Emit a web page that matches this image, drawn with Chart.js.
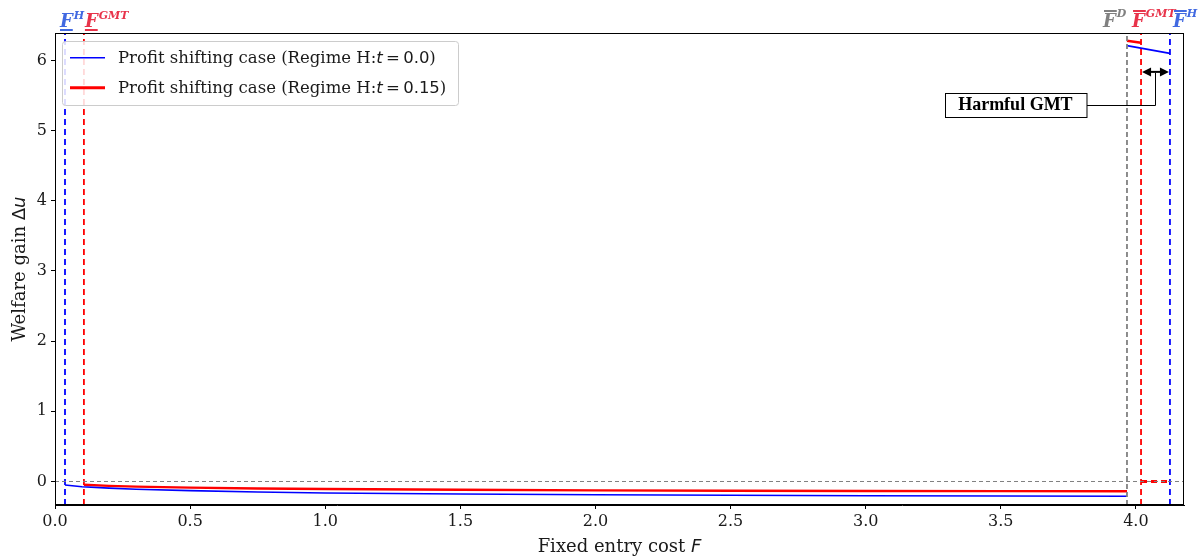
<!DOCTYPE html>
<html>
<head>
<meta charset="utf-8">
<script src="https://cdn.jsdelivr.net/npm/chart.js@4.4.1/dist/chart.umd.min.js"></script>
<style>
  html, body { margin: 0; padding: 0; background: #ffffff; }
  #wrap { width: 1203px; height: 560px; position: relative; }
</style>
</head>
<body>
<div id="wrap"><canvas id="c" width="1203" height="560"></canvas></div>
<script>
// ---------- data ----------
const xRange = [0, 4.178];
const yRange = [-0.335, 6.39];
const xTicks = [0.0, 0.5, 1.0, 1.5, 2.0, 2.5, 3.0, 3.5, 4.0];
const yTicks = [0, 1, 2, 3, 4, 5, 6];

// Regime H: t = 0.0 (blue)
const blueX = [0.037, 0.1, 0.2, 0.3, 0.5, 0.75, 1.0, 1.5, 2.0, 2.5, 3.0, 3.5, 3.967];
const blueY = [-0.05, -0.075, -0.095, -0.11, -0.13, -0.15, -0.163, -0.178, -0.19, -0.197, -0.203, -0.207, -0.21];
// Regime H: t = 0.15 (red)
const redX = [0.107, 0.2, 0.3, 0.5, 0.75, 1.0, 1.5, 2.0, 2.5, 3.0, 3.5, 3.967];
const redY = [-0.047, -0.062, -0.073, -0.088, -0.1, -0.108, -0.118, -0.126, -0.131, -0.135, -0.138, -0.14];

// upper branch (right of F-bar-D)
const blueTopX = [3.967, 4.126];
const blueTopY = [6.21, 6.10];
const redTopX = [3.967, 4.019];
const redTopY = [6.28, 6.25];

// red dashed segment at zero between F-bar-GMT and F-bar-H
const redZeroX = [4.019, 4.126];
const redZeroY = [0, 0];

// thresholds (vertical lines)
const thrNames = ['FH', 'FGMT', 'FbarD', 'FbarGMT', 'FbarH'];
const thrX = [0.037, 0.107, 3.967, 4.019, 4.126];
const thrColors = ['#0000ff', '#ff0000', '#808080', '#ff0000', '#0000ff'];

// annotation
const arrowY = 5.836;
const annotText = 'Harmful GMT';
const annotX = 3.554;
const annotY = 5.37;

const legendLabels = ['Profit shifting case (Regime H:', 'Profit shifting case (Regime H:'];
const legendT = ['0.0', '0.15'];

// ---------- helpers ----------
const pts = (xs, ys) => xs.map((x, i) => ({x: x, y: ys[i]}));
const SERIF = "'DejaVu Serif', serif";
const SANS = "'DejaVu Sans', sans-serif";

const datasets = [];
datasets.push({data: pts(xRange, [0, 0]), borderColor: '#808080', borderWidth: 1, borderDash: [4, 3]});
thrX.forEach((x, i) => {
  datasets.push({data: pts([x, x], yRange), borderColor: thrColors[i], borderWidth: 1.8,
    borderDash: thrColors[i] === '#808080' ? [5, 3] : [6, 4]});
});
datasets.push({data: pts(blueX, blueY), borderColor: '#0000ff', borderWidth: 1.6});
datasets.push({data: pts(redX, redY), borderColor: '#ff0000', borderWidth: 2.4});
datasets.push({data: pts(blueTopX, blueTopY), borderColor: '#0000ff', borderWidth: 1.6});
datasets.push({data: pts(redTopX, redTopY), borderColor: '#ff0000', borderWidth: 2.6});
datasets.push({data: pts(redZeroX, redZeroY), borderColor: '#ff0000', borderWidth: 3, borderDash: [6, 4]});
datasets.forEach(d => { d.showLine = true; d.pointRadius = 0; d.fill = false; d.tension = 0; });

function drawParts(ctx, parts, x, y) {
  let cx = x;
  parts.forEach(p => {
    ctx.font = p.font;
    ctx.fillText(p.text, cx, y + (p.dy || 0));
    cx += ctx.measureText(p.text).width;
  });
  return cx;
}
function partsWidth(ctx, parts) {
  let w = 0;
  parts.forEach(p => { ctx.font = p.font; w += ctx.measureText(p.text).width; });
  return w;
}

const decor = {
  id: 'decor',
  afterDatasetsDraw(chart) {
    const ctx = chart.ctx;
    const xs = chart.scales.x, ys = chart.scales.y;
    const a = chart.chartArea;
    ctx.save();
    ctx.strokeStyle = '#000';
    ctx.lineWidth = 1;
    ctx.strokeRect(a.left + 0.5, a.top + 0.5, a.right - a.left - 1, a.bottom - a.top - 1);

    // double arrow
    const x1 = xs.getPixelForValue(thrX[3]), x2 = xs.getPixelForValue(thrX[4]);
    const ay = ys.getPixelForValue(arrowY);
    ctx.strokeStyle = '#000'; ctx.fillStyle = '#000'; ctx.lineWidth = 2;
    ctx.beginPath(); ctx.moveTo(x1 + 6, ay); ctx.lineTo(x2 - 6, ay); ctx.stroke();
    const head = (xt, dir) => {
      ctx.beginPath();
      ctx.moveTo(xt, ay);
      ctx.lineTo(xt - dir * 9, ay - 4.5);
      ctx.lineTo(xt - dir * 9, ay + 4.5);
      ctx.closePath(); ctx.fill();
    };
    head(x1 + 1, -1); head(x2 - 1, 1);

    // annotation box
    ctx.font = "bold 18px 'Liberation Serif', serif";
    const tw = ctx.measureText(annotText).width;
    const bx = xs.getPixelForValue(annotX), by = ys.getPixelForValue(annotY);
    const bw = tw + 27, bh = 24;
    const left = Math.round(bx - bw / 2) + 0.5, top = Math.round(by - bh / 2) + 0.5;
    ctx.fillStyle = '#fff';
    ctx.fillRect(left, top, bw, bh);
    ctx.lineWidth = 1; ctx.strokeStyle = '#000';
    ctx.strokeRect(left, top, bw, bh);
    ctx.fillStyle = '#000';
    ctx.textAlign = 'center'; ctx.textBaseline = 'middle';
    ctx.fillText(annotText, bx, by + 1);
    const mx = (x1 + x2) / 2;
    ctx.beginPath();
    ctx.moveTo(left + bw, Math.round(by) + 0.5);
    ctx.lineTo(Math.round(mx) + 0.5, Math.round(by) + 0.5);
    ctx.lineTo(Math.round(mx) + 0.5, ay + 1);
    ctx.stroke();

    // legend
    const lx = 62.5, ly = 41.5, lw = 396, lh = 64;
    ctx.fillStyle = 'rgba(255,255,255,0.85)';
    ctx.strokeStyle = '#cccccc';
    ctx.lineWidth = 1;
    ctx.beginPath();
    ctx.roundRect(lx, ly, lw, lh, 3);
    ctx.fill(); ctx.stroke();
    const rows = [{c: '#0000ff', w: 1.6, y: 57.7}, {c: '#ff0000', w: 3, y: 87.7}];
    ctx.textAlign = 'left'; ctx.textBaseline = 'middle';
    rows.forEach((r, i) => {
      ctx.strokeStyle = r.c; ctx.lineWidth = r.w;
      ctx.beginPath(); ctx.moveTo(70, r.y); ctx.lineTo(105, r.y); ctx.stroke();
      ctx.fillStyle = '#1a1a1a';
      drawParts(ctx, [
        {font: '16.5px ' + SERIF, text: legendLabels[i]},
        {font: 'italic 16.5px ' + SANS, text: 't'},
        {font: '16.5px ' + SANS, text: '\u2009=\u2009' + legendT[i]},
        {font: '16.5px ' + SERIF, text: ')'}
      ], 118, r.y + 1);
    });
    ctx.restore();
  },
  afterDraw(chart) {
    const ctx = chart.ctx;
    const xs = chart.scales.x;
    const a = chart.chartArea;
    ctx.save();
    ctx.textBaseline = 'alphabetic'; ctx.textAlign = 'left';
    ctx.fillStyle = '#1a1a1a';
    const xt = [{font: '18px ' + SERIF, text: 'Fixed entry cost '}, {font: 'italic 18px ' + SANS, text: 'F'}];
    const xw = partsWidth(ctx, xt);
    drawParts(ctx, xt, (a.left + a.right) / 2 - xw / 2, 552);
    ctx.save();
    ctx.translate(25, (a.top + a.bottom) / 2);
    ctx.rotate(-Math.PI / 2);
    const yt = [{font: '18px ' + SERIF, text: 'Welfare gain '}, {font: '18px ' + SANS, text: 'Δ'}, {font: 'italic 18px ' + SANS, text: 'u'}];
    const yw = partsWidth(ctx, yt);
    drawParts(ctx, yt, -yw / 2, 0);
    ctx.restore();

    // threshold labels on top
    const fF = "bold italic 18px 'DejaVu Serif', serif";
    const fS = "bold italic 11px 'DejaVu Serif', serif";
    const labels = [
      {i: 0, col: '#4169e1', sup: 'H', off: -5, mark: 'under'},
      {i: 1, col: '#e8334a', sup: 'GMT', off: 1, mark: 'under'},
      {i: 2, col: '#808080', sup: 'D', off: -24, mark: 'over'},
      {i: 3, col: '#e8334a', sup: 'GMT', off: -9, mark: 'over'},
      {i: 4, col: '#4169e1', sup: 'H', off: 3, mark: 'over'}
    ];
    labels.forEach(L => {
      const px = xs.getPixelForValue(thrX[L.i]) + L.off;
      ctx.fillStyle = L.col; ctx.strokeStyle = L.col;
      ctx.font = fF;
      const fw = ctx.measureText('F').width;
      ctx.fillText('F', px, 27);
      ctx.font = fS;
      ctx.fillText(L.sup, px + fw + 1, L.mark === 'under' ? 19 : 17);
      ctx.lineWidth = 2;
      ctx.beginPath();
      if (L.mark === 'under') { ctx.moveTo(px, 30); ctx.lineTo(px + fw, 30); }
      else { ctx.moveTo(px + 1, 11); ctx.lineTo(px + fw + 1, 11); }
      ctx.stroke();
    });
    ctx.restore();
  }
};

new Chart(document.getElementById('c'), {
  type: 'scatter',
  data: {datasets: datasets},
  options: {
    responsive: false,
    animation: false,
    layout: {padding: {top: 33, right: 19, left: 0, bottom: 0}},
    plugins: {legend: {display: false}, tooltip: {enabled: false}},
    scales: {
      x: {
        type: 'linear', min: xRange[0], max: xRange[1],
        afterBuildTicks: s => { s.ticks = xTicks.map(v => ({value: v})); },
        afterFit: s => { s.height = 55; },
        grid: {drawOnChartArea: false, drawTicks: true, tickLength: 4, color: '#000', tickWidth: 1},
        border: {display: true, color: '#000'},
        ticks: {font: {family: SERIF, size: 16}, color: '#1a1a1a', padding: 3, maxRotation: 0,
          callback: v => Number(v).toFixed(1)}
      },
      y: {
        type: 'linear', min: yRange[0], max: yRange[1],
        afterBuildTicks: s => { s.ticks = yTicks.map(v => ({value: v})); },
        afterFit: s => { s.width = 55; },
        grid: {drawOnChartArea: false, drawTicks: true, tickLength: 4, color: '#000', tickWidth: 1},
        border: {display: true, color: '#000'},
        ticks: {font: {family: SERIF, size: 16}, color: '#1a1a1a', padding: 4,
          callback: v => String(v)}
      }
    }
  },
  plugins: [decor]
});
</script>
</body>
</html>
